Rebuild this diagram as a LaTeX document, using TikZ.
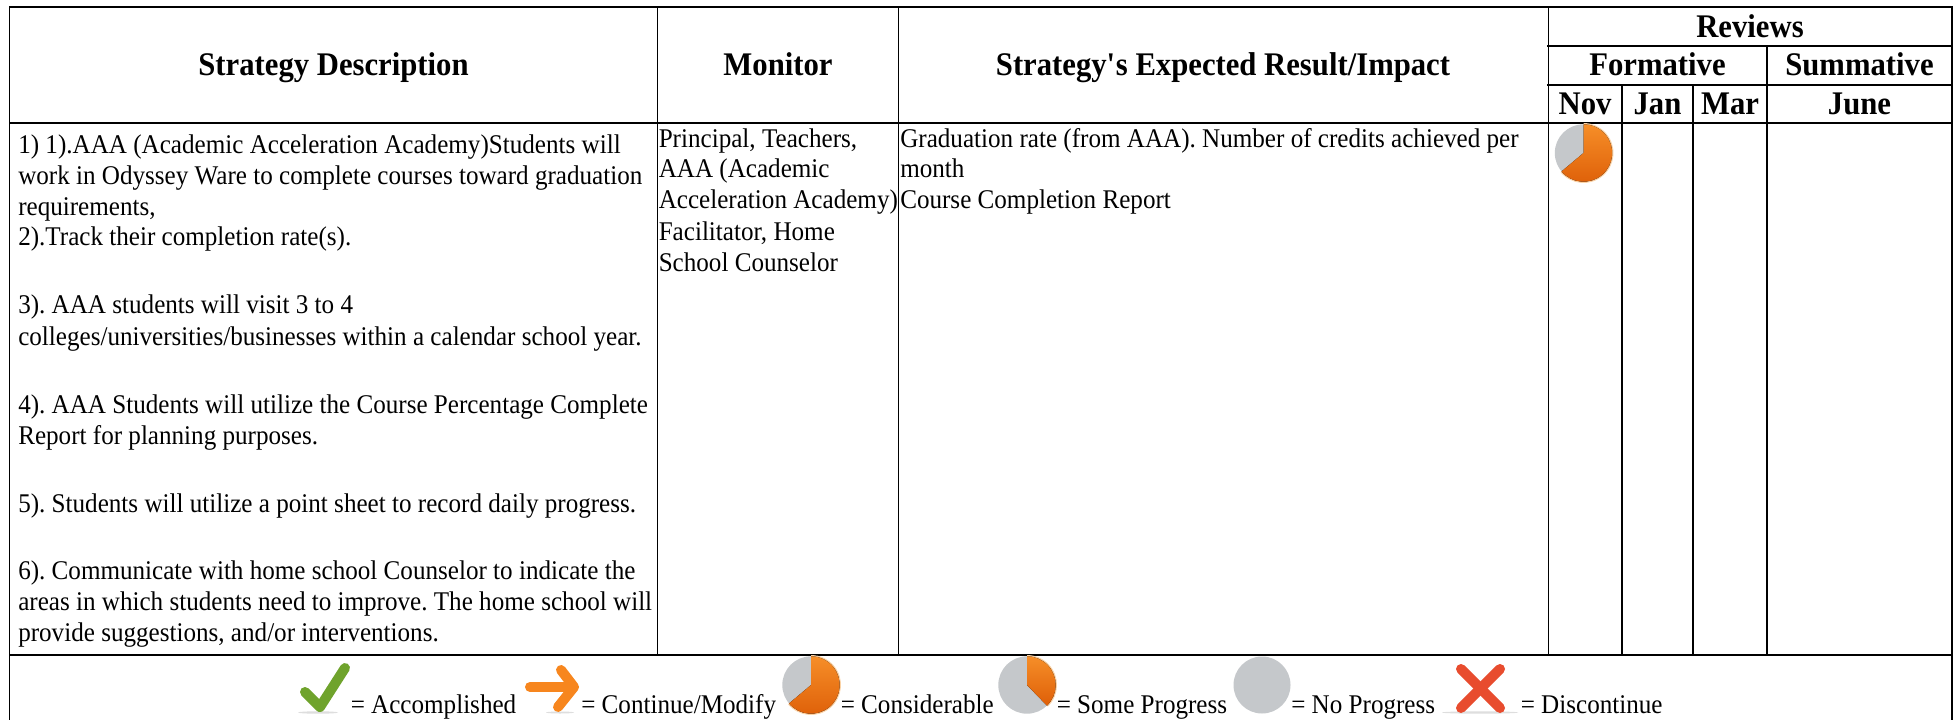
\documentclass[tikz,border=0pt]{standalone}
\usepackage{fontspec}
\setmainfont[FakeStretch=0.93]{Liberation Serif}
\frenchspacing
\tikzset{
  x=0.75pt,y=0.75pt,
  gridline/.style={draw=black,line width=1.3pt,line cap=rect},
  gridthin/.style={draw=black,line width=1.1pt,line cap=butt},
  cell/.style={anchor=base west,inner sep=0pt,font=\fontsize{20.25}{24}\selectfont},
  head/.style={anchor=base,inner sep=0pt,font=\fontsize{24.75}{28}\selectfont\bfseries},
  smudge/.style={fill=black!18,draw=none,opacity=0.7},
  iconstroke/.style={line width=7.5pt,line cap=round,line join=round}
}
\definecolor{iconorangetop}{HTML}{F68E28}
\definecolor{iconorangebot}{HTML}{DE5F08}
\definecolor{iconhalo}{HTML}{FBD3A6}
\definecolor{icongray}{HTML}{C5C8CB}
\definecolor{icongreen}{HTML}{6FA32C}
\definecolor{iconarrow}{HTML}{F7861E}
\definecolor{iconred}{HTML}{E84C2E}
% centre x, centre y, angle where the orange slice starts (it runs up to 90)
\newcommand{\pieicon}[3]{%
  \fill[icongray] (#1,#2) circle[radius=28.7];
  \draw[iconhalo,line width=1pt] (#1,#2) ++(#3:29.3) arc[start angle=#3,end angle=90,radius=29.3];
  \fill[top color=iconorangetop,bottom color=iconorangebot] (#1,#2) -- ++(#3:28.7) arc[start angle=#3,end angle=90,radius=28.7] -- cycle;
}
\begin{document}
\begin{tikzpicture}
\useasboundingbox (0,0) rectangle (1959,-720);
\fill[white] (0,0) rectangle (1959,-720);

% grid
\draw[gridline] (9.5,-720) -- (9.5,-7) -- (1952,-7) -- (1952,-720);
\draw[gridline] (9.5,-123) -- (1952,-123);
\draw[gridline] (9.5,-655) -- (1952,-655);
\draw[gridline] (1548,-46) -- (1952,-46);
\draw[gridline] (1548,-85) -- (1952,-85);
\draw[gridthin] (657.5,-7) -- (657.5,-655);
\draw[gridthin] (898.5,-7) -- (898.5,-655);
\draw[gridthin] (1548.5,-7) -- (1548.5,-655);
\draw[gridthin] (1622,-85) -- (1622,-655);
\draw[gridthin] (1693,-85) -- (1693,-655);
\draw[gridthin] (1767,-46) -- (1767,-655);

% headers
\node[head] (hstrat) at (333.5,-76) {Strategy Description};
\node[head] (hmon) at (778,-76) {Monitor};
\node[head] (himp) at (1223,-76) {Strategy\textquotesingle s Expected Result/Impact};
\node[head] (hrev) at (1750,-37.5) {Reviews};
\node[head] (hform) at (1657.5,-76) {Formative};
\node[head] (hsumm) at (1859.5,-76) {Summative};
\node[head] (hnov) at (1585,-115) {Nov};
\node[head] (hjan) at (1657.5,-115) {Jan};
\node[head] (hmar) at (1730,-115) {Mar};
\node[head] (hjun) at (1859.5,-115) {June};

% strategy column
\node[cell] (s1) at (18,-154) {1) 1).AAA (Academic Acceleration Academy)Students will};
\node[cell] (s2) at (18,-185) {work in Odyssey Ware to complete courses toward graduation};
\node[cell] (s3) at (18,-215.5) {requirements,};
\node[cell] (s4) at (18,-246) {2).Track their completion rate(s).};
\node[cell] (s5) at (18,-314) {3). AAA students will visit 3 to 4};
\node[cell] (s6) at (18,-345) {colleges/universities/businesses within a calendar school year.};
\node[cell] (s7) at (18,-413) {4). AAA Students will utilize the Course Percentage Complete};
\node[cell] (s8) at (18,-444) {Report for planning purposes.};
\node[cell] (s9) at (18,-512) {5). Students will utilize a point sheet to record daily progress.};
\node[cell] (s10) at (18,-579) {6). Communicate with home school Counselor to indicate the};
\node[cell] (s11) at (18,-610) {areas in which students need to improve. The home school will};
\node[cell] (s12) at (18,-641) {provide suggestions, and/or interventions.};

% monitor column
\node[cell] (m1) at (658.5,-148) {Principal, Teachers,};
\node[cell] (m2) at (658.5,-178) {AAA (Academic};
\node[cell] (m3) at (658.5,-209) {Acceleration Academy)};
\node[cell] (m4) at (658.5,-241) {Facilitator, Home};
\node[cell] (m5) at (658.5,-272) {School Counselor};

% impact column
\node[cell] (r1) at (900,-148) {Graduation rate (from AAA). Number of credits achieved per};
\node[cell] (r2) at (900,-178) {month};
\node[cell] (r3) at (900,-209) {Course Completion Report};

% Nov review icon
\pieicon{1583.5}{-153}{-140}

% legend: check
\fill[smudge] (318,-712.5) ellipse[x radius=20,y radius=1.2];
\draw[icongreen,iconstroke] (305,-692) -- (320,-707) -- (345,-668);
\node[cell] (l1) at (350.5,-713) {= Accomplished};

% legend: arrow
\fill[smudge] (560,-712.5) ellipse[x radius=14,y radius=1];
\draw[iconarrow,iconstroke] (530,-687) -- (572,-687);
\draw[iconarrow,iconstroke] (561,-670) -- (574,-687) -- (558,-707);
\node[cell] (l2) at (581,-713) {= Continue/Modify};

% legend: pies
\pieicon{811}{-685}{-140}
\node[cell] (l3) at (840.5,-713) {= Considerable};
\pieicon{1027}{-685}{-46}
\node[cell] (l4) at (1056.5,-713) {= Some Progress};
\fill[icongray] (1262,-685) circle[radius=28.5];
\node[cell] (l5) at (1291,-713) {= No Progress};

% legend: cross
\fill[smudge] (1480,-712.5) ellipse[x radius=38,y radius=1.2];
\draw[iconred,iconstroke] (1461,-669) -- (1500,-708);
\draw[iconred,iconstroke] (1500,-669) -- (1461,-708);
\node[cell] (l6) at (1520.5,-713) {= Discontinue};
\end{tikzpicture}
\end{document}
